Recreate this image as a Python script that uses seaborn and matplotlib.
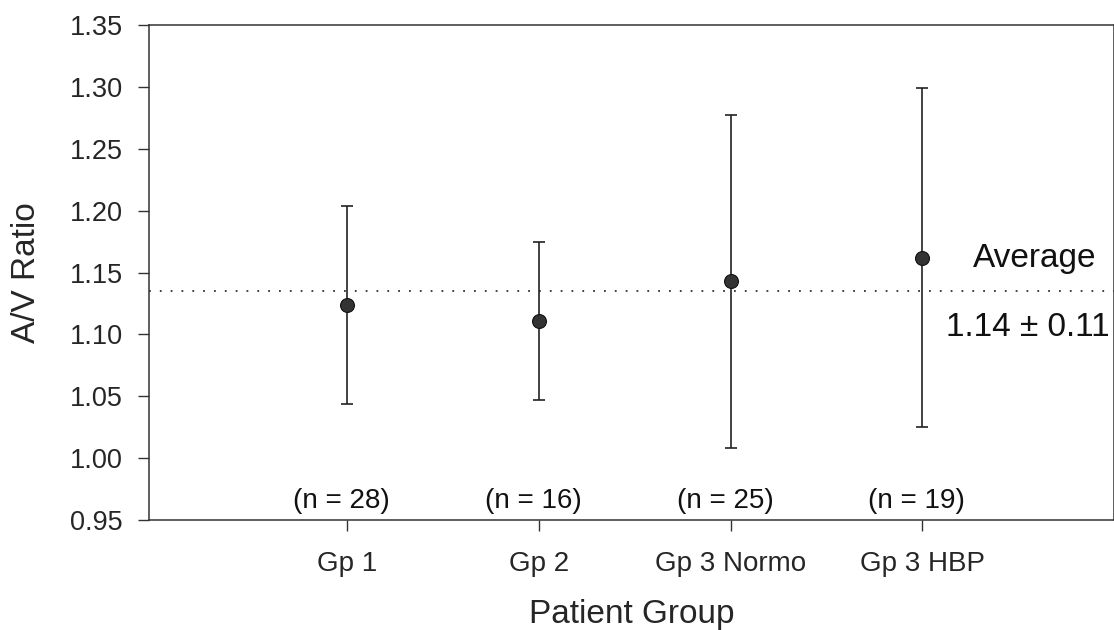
import numpy as np
import pandas as pd
import matplotlib
matplotlib.use("Agg")
import matplotlib.pyplot as plt
import seaborn as sns

groups = ["Gp 1", "Gp 2", "Gp 3 Normo", "Gp 3 HBP"]
means = [1.124, 1.111, 1.143, 1.162]
sds = [0.080, 0.064, 0.1345, 0.137]
n_labels = ["(n = 28)", "(n = 16)", "(n = 25)", "(n = 19)"]
overall_avg = 1.135
yticks = [0.95, 1.00, 1.05, 1.10, 1.15, 1.20, 1.25, 1.30, 1.35]

sns.set_theme(style="ticks")
plt.rcParams["font.family"] = ["Liberation Sans", "DejaVu Sans"]

fig = plt.figure(figsize=(11.14, 6.30), dpi=100)
ax = fig.add_axes([0.1338, 0.1746, 0.8662, 0.7857])

df = pd.DataFrame({"pos": np.arange(len(groups)), "mean": means, "sd": sds})

ax.axhline(overall_avg, color="#333333", linestyle=(0, (1, 5)), linewidth=1.3, zorder=1)
ax.errorbar(df["pos"], df["mean"], yerr=df["sd"], fmt="none", ecolor="#222222",
            elinewidth=1.2, capsize=4, capthick=1.2, zorder=2)
sns.scatterplot(data=df, x="pos", y="mean", ax=ax, color="#333333", s=100,
                edgecolor="#111111", linewidth=0.8, zorder=3, legend=False)

for i, lab in enumerate(n_labels):
    ax.text(i - 0.03, 0.955, lab, ha="center", va="bottom", fontsize=20, color="#111111")

ax.text(3.587, 1.161, "Average", ha="center", va="center", fontsize=24, color="#111111")
ax.text(3.55, 1.1056, "1.14 \u00b1 0.11", ha="center", va="center", fontsize=24, color="#111111")

ax.set_xlim(-1.034, 4.0)
ax.set_ylim(0.95, 1.35)
ax.set_xticks(range(len(groups)))
ax.set_xticklabels(groups, fontsize=20)
ax.set_yticks(yticks)
ax.set_yticklabels([f"{v:.2f}" for v in yticks], fontsize=19.5)
ax.tick_params(axis="both", direction="out", length=8, width=1, color="#333333")
ax.tick_params(axis="y", pad=11)
ax.tick_params(axis="x", pad=14)
ax.set_xlabel("Patient Group", fontsize=24, labelpad=16)
ax.set_ylabel("A/V Ratio", fontsize=24, labelpad=20)
for s in ["top", "right", "left", "bottom"]:
    ax.spines[s].set_visible(True)
    ax.spines[s].set_color("#333333")
    ax.spines[s].set_linewidth(1.1)
ax.set_facecolor("white")

fig.savefig("out.png", dpi=100)
